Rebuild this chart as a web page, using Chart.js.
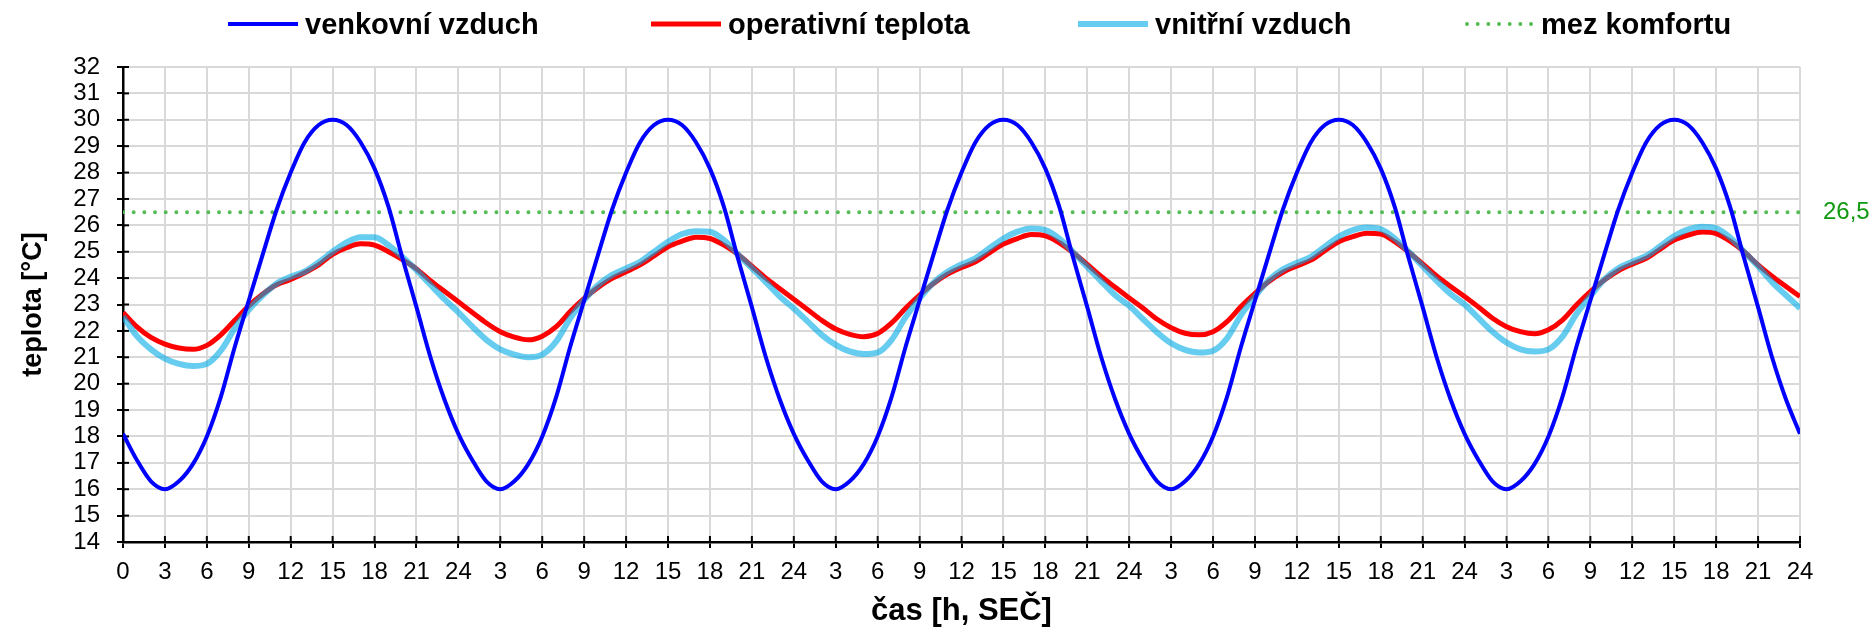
<!DOCTYPE html>
<html lang="cs">
<head>
<meta charset="utf-8">
<title>Teplota – venkovní a vnitřní vzduch</title>
<script src="https://cdn.jsdelivr.net/npm/chart.js@4.4.1/dist/chart.umd.min.js"></script>
<style>
  html, body { margin: 0; padding: 0; background: #fff; }
  #wrap { position: relative; width: 1874px; height: 627px; }
  #legend { position: absolute; left: 0; top: 0; width: 1874px; height: 46px;
            font: bold 29px "Liberation Sans", Arial, sans-serif; color: #000; }
  .lg-item { position: absolute; top: 7px; height: 34px; display: flex; align-items: center; white-space: nowrap; }
  .lg-item svg { margin-right: 7px; }
</style>
</head>
<body>
<div id="wrap">
  <canvas id="chart" width="1874" height="627"></canvas>
  <div id="legend"></div>
</div>
<script>
// hodiny 0..120 (5 dní)
const hours = [
  0, 1, 2, 3, 4, 5, 6, 7, 8, 9, 10, 11, 12, 13, 14, 15, 16, 17, 18, 19, 20, 21, 22, 23,
  24, 25, 26, 27, 28, 29, 30, 31, 32, 33, 34, 35, 36, 37, 38, 39, 40, 41, 42, 43, 44, 45, 46, 47,
  48, 49, 50, 51, 52, 53, 54, 55, 56, 57, 58, 59, 60, 61, 62, 63, 64, 65, 66, 67, 68, 69, 70, 71,
  72, 73, 74, 75, 76, 77, 78, 79, 80, 81, 82, 83, 84, 85, 86, 87, 88, 89, 90, 91, 92, 93, 94, 95,
  96, 97, 98, 99, 100, 101, 102, 103, 104, 105, 106, 107, 108, 109, 110, 111, 112, 113, 114, 115, 116, 117, 118, 119,
  120,
];

const xTickLabels = [
  '0', '3', '6', '9', '12', '15', '18', '21',
  '24', '3', '6', '9', '12', '15', '18', '21',
  '24', '3', '6', '9', '12', '15', '18', '21',
  '24', '3', '6', '9', '12', '15', '18', '21',
  '24', '3', '6', '9', '12', '15', '18', '21',
  '24',
];

// venkovní vzduch [°C]
const outdoorAir = [
  18.1, 17.1, 16.3, 16.0, 16.3, 16.95, 18.0, 19.5, 21.4, 23.15, 24.9, 26.6, 28.0, 29.15, 29.8, 30.0, 29.8, 29.15, 28.15, 26.7, 24.75, 22.9, 21.0, 19.4,
  18.1, 17.1, 16.3, 16.0, 16.3, 16.95, 18.0, 19.5, 21.4, 23.15, 24.9, 26.6, 28.0, 29.15, 29.8, 30.0, 29.8, 29.15, 28.15, 26.7, 24.75, 22.9, 21.0, 19.4,
  18.1, 17.1, 16.3, 16.0, 16.3, 16.95, 18.0, 19.5, 21.4, 23.15, 24.9, 26.6, 28.0, 29.15, 29.8, 30.0, 29.8, 29.15, 28.15, 26.7, 24.75, 22.9, 21.0, 19.4,
  18.1, 17.1, 16.3, 16.0, 16.3, 16.95, 18.0, 19.5, 21.4, 23.15, 24.9, 26.6, 28.0, 29.15, 29.8, 30.0, 29.8, 29.15, 28.15, 26.7, 24.75, 22.9, 21.0, 19.4,
  18.1, 17.1, 16.3, 16.0, 16.3, 16.95, 18.0, 19.5, 21.4, 23.15, 24.9, 26.6, 28.0, 29.15, 29.8, 30.0, 29.8, 29.15, 28.15, 26.7, 24.75, 22.9, 21.0, 19.4,
  18.1,
];

// operativní teplota [°C]
const operativeTemp = [
  22.7, 22.15, 21.75, 21.5, 21.35, 21.3, 21.45, 21.85, 22.4, 22.95, 23.4, 23.75, 23.95, 24.2, 24.5, 24.9, 25.15, 25.3, 25.25, 25.0, 24.7, 24.35, 23.9, 23.5,
  23.1, 22.7, 22.3, 21.97, 21.76, 21.66, 21.8, 22.16, 22.73, 23.23, 23.65, 23.99, 24.24, 24.5, 24.84, 25.19, 25.4, 25.55, 25.5, 25.25, 24.9, 24.45, 24.0, 23.6,
  23.2, 22.8, 22.4, 22.07, 21.87, 21.78, 21.9, 22.3, 22.86, 23.36, 23.8, 24.15, 24.4, 24.62, 24.96, 25.29, 25.5, 25.65, 25.6, 25.34, 24.96, 24.52, 24.06, 23.65,
  23.25, 22.86, 22.44, 22.12, 21.91, 21.85, 21.97, 22.35, 22.92, 23.42, 23.87, 24.22, 24.46, 24.68, 25.04, 25.38, 25.57, 25.7, 25.67, 25.38, 24.98, 24.54, 24.08, 23.68,
  23.3, 22.9, 22.48, 22.16, 21.97, 21.89, 22.04, 22.41, 22.98, 23.49, 23.93, 24.28, 24.53, 24.75, 25.1, 25.44, 25.63, 25.75, 25.69, 25.4, 25.0, 24.5, 24.07, 23.68,
  23.3,
];

// vnitřní vzduch [°C]
const indoorAir = [
  22.55, 21.8, 21.3, 20.95, 20.75, 20.67, 20.75, 21.25, 22.1, 22.8, 23.35, 23.8, 24.05, 24.25, 24.6, 25.0, 25.35, 25.55, 25.55, 25.25, 24.8, 24.3, 23.75, 23.2,
  22.7, 22.16, 21.66, 21.3, 21.1, 21.0, 21.1, 21.6, 22.48, 23.17, 23.74, 24.12, 24.37, 24.62, 25.0, 25.38, 25.67, 25.78, 25.76, 25.44, 24.9, 24.38, 23.85, 23.3,
  22.85, 22.35, 21.85, 21.47, 21.22, 21.12, 21.18, 21.66, 22.52, 23.23, 23.83, 24.24, 24.52, 24.75, 25.13, 25.5, 25.76, 25.88, 25.82, 25.5, 24.98, 24.42, 23.88, 23.35,
  22.95, 22.44, 21.94, 21.53, 21.28, 21.18, 21.25, 21.72, 22.6, 23.3, 23.93, 24.33, 24.58, 24.81, 25.19, 25.57, 25.82, 25.92, 25.86, 25.5, 25.0, 24.45, 23.9, 23.4,
  23.0, 22.48, 21.97, 21.56, 21.3, 21.22, 21.3, 21.78, 22.64, 23.32, 23.95, 24.37, 24.62, 24.84, 25.21, 25.59, 25.85, 25.95, 25.89, 25.54, 25.0, 24.45, 23.85, 23.35,
  22.86,
];

// mez komfortu [°C]
const comfortLimit = 26.5;

const FONT = '"Liberation Sans", Arial, sans-serif';

const datasets = [
  {
    label: 'venkovní vzduch',
    data: outdoorAir,
    borderColor: '#0000ff',
    borderWidth: 4,
    order: 1,
  },
  {
    label: 'operativní teplota',
    data: operativeTemp,
    borderColor: '#ff0000',
    borderWidth: 5,
    order: 3,
  },
  {
    label: 'vnitřní vzduch',
    data: indoorAir,
    borderColor: 'rgba(0,170,230,0.6)',
    borderWidth: 6,
    order: 2,
  },
  {
    label: 'mez komfortu',
    data: [{ x: hours[0], y: comfortLimit }, { x: hours[hours.length - 1], y: comfortLimit }],
    borderColor: '#55bb55',
    borderWidth: 4,
    borderDash: [0, 10.67],
    borderCapStyle: 'round',
    cubicInterpolationMode: 'default',
    tension: 0,
    order: 4,
  },
];

// vnitřní polovina křížových značek na osách
const crossTicks = {
  id: 'crossTicks',
  beforeDatasetsDraw(chart) {
    const { ctx, chartArea, scales } = chart;
    ctx.save();
    ctx.strokeStyle = '#000';
    ctx.lineWidth = 2;
    scales.x.ticks.forEach((t) => {
      const px = scales.x.getPixelForValue(t.value);
      ctx.beginPath();
      ctx.moveTo(px, chartArea.bottom);
      ctx.lineTo(px, chartArea.bottom - 6);
      ctx.stroke();
    });
    scales.y.ticks.forEach((t) => {
      const py = scales.y.getPixelForValue(t.value);
      ctx.beginPath();
      ctx.moveTo(chartArea.left, py);
      ctx.lineTo(chartArea.left + 6, py);
      ctx.stroke();
    });
    ctx.restore();
  },
};

const chart = new Chart(document.getElementById('chart'), {
  type: 'line',
  data: {
    labels: hours,
    datasets: datasets.map((d) => ({
      pointRadius: 0,
      pointHoverRadius: 0,
      fill: false,
      cubicInterpolationMode: 'monotone',
      ...d,
    })),
  },
  options: {
    responsive: false,
    animation: false,
    devicePixelRatio: 1,
    layout: { padding: { top: 67, right: 0, bottom: 0, left: 0 } },
    plugins: {
      legend: { display: false },
      tooltip: { enabled: false },
    },
    scales: {
      x: {
        type: 'linear',
        min: 0,
        max: 120,
        afterFit: (s) => { s.height = 85; },
        ticks: {
          stepSize: 3,
          autoSkip: false,
          maxRotation: 0,
          padding: 10,
          color: '#000',
          font: { family: FONT, size: 24 },
          callback: (value, index) => xTickLabels[index],
        },
        grid: { color: '#d9d9d9', lineWidth: 2, tickLength: 6, tickColor: '#000', tickWidth: 2 },
        border: { color: '#000', width: 2.5 },
        title: {
          display: true,
          text: 'čas [h, SEČ]',
          color: '#000',
          font: { family: FONT, size: 31, weight: 'bold', lineHeight: 1 },
          padding: { top: 0, bottom: 0 },
        },
      },
      y: {
        min: 14,
        max: 32,
        afterFit: (s) => { s.width = 123; },
        ticks: {
          stepSize: 1,
          autoSkip: false,
          padding: 17,
          color: '#000',
          font: { family: FONT, size: 24 },
        },
        grid: { color: '#d9d9d9', lineWidth: 2, tickLength: 6, tickColor: '#000', tickWidth: 2 },
        border: { color: '#000', width: 2.5 },
        title: {
          display: true,
          text: 'teplota [°C]',
          color: '#000',
          font: { family: FONT, size: 27, weight: 'bold' },
          padding: { top: 17, bottom: 0 },
        },
      },
      y2: {
        position: 'right',
        min: 14,
        max: 32,
        afterFit: (s) => { s.width = 74; },
        afterBuildTicks: (s) => { s.ticks = [{ value: comfortLimit }]; },
        ticks: {
          padding: 23,
          color: '#119911',
          font: { family: FONT, size: 24 },
          callback: (v) => String(v).replace('.', ','),
        },
        grid: { display: false, drawTicks: false },
        border: { display: false },
      },
    },
  },
  plugins: [crossTicks],
});

// legenda nad grafem
const legendLeft = [228, 651, 1078, 1464];
function renderLegend() {
  const box = document.getElementById('legend');
  box.innerHTML = datasets
    .map((d, i) => {
      const dash = d.borderDash ? `stroke-dasharray="${d.borderDash.join(' ')}"` : '';
      const cap = d.borderCapStyle === 'round' ? 'round' : 'butt';
      const x1 = cap === 'round' ? 3 : 0;
      return `
      <div class="lg-item" style="left:${legendLeft[i]}px">
        <svg width="70" height="12"><line x1="${x1}" y1="6" x2="70" y2="6" stroke="${d.borderColor}" stroke-width="${d.borderWidth}" stroke-linecap="${cap}" ${dash}/></svg>
        <span>${d.label}</span>
      </div>`;
    })
    .join('');
}
renderLegend();
</script>
</body>
</html>
